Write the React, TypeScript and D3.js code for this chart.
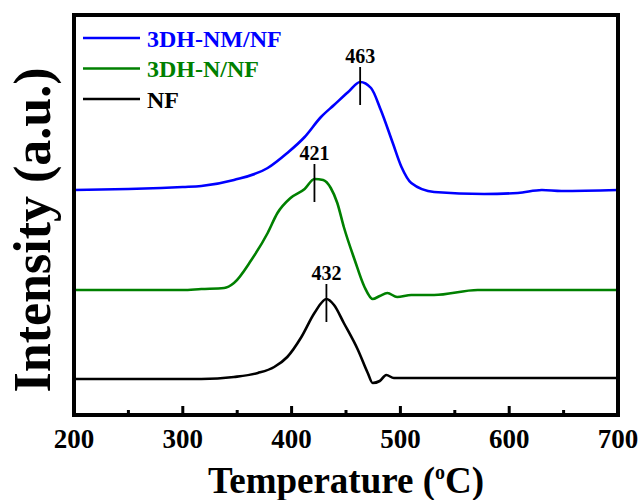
import * as d3 from "d3";

// temperature (°C) and intensity (a.u., offset stacked)
const nmT = [200, 250, 280, 300, 317, 347, 378, 396, 412, 427, 439, 452, 463, 473, 482, 493, 501, 510, 531, 577, 608, 630, 648, 700];
const nmI = [225, 226, 227, 228, 229, 235, 247, 262, 278, 298, 310, 323, 333, 327, 305, 272, 248, 232, 223, 221, 222, 225, 224, 225];

const nT = [200, 300, 317, 338, 347, 363, 378, 387, 399, 412, 421, 429, 436, 442, 448, 458, 467, 474.5, 481, 488, 497, 510, 531, 571, 648, 700];
const nI = [125, 125, 126, 127, 132, 155, 182, 202, 217, 226, 236, 235, 227, 212, 188, 155, 128, 116, 119, 122, 118, 120, 120, 125, 125, 125];

const nfT = [200, 317, 347, 369, 384, 396, 409, 421, 432, 439, 448, 461, 470, 474.5, 481, 487, 494, 510, 700];
const nfI = [36, 36, 38, 42, 48, 58, 78, 102, 116, 110, 92, 65, 42, 32, 34, 40, 37, 37, 37];

const seriesNames = ["3DH-NM/NF", "3DH-N/NF", "NF"];
const seriesColors = ["#0000ff", "#008000", "#000000"];
const peakT = [463, 421, 432];
const peakLabels = ["463", "421", "432"];
const majorTicks = [200, 300, 400, 500, 600, 700];
const minorTicks = [250, 350, 450, 550, 650];

const W = 640;
const H = 500;
const m = { left: 74, right: 618, top: 15, bottom: 415 };
const font = "'Liberation Serif', 'Times New Roman', serif";

export default function App() {
  const x = d3.scaleLinear().domain([200, 700]).range([m.left, m.right]);
  const y = d3.scaleLinear().domain([0, 400]).range([m.bottom, m.top]);
  const line = d3
    .line<[number, number]>()
    .x((d) => x(d[0]))
    .y((d) => y(d[1]))
    .curve(d3.curveMonotoneX);

  const series = [
    nmT.map((t, i) => [t, nmI[i]] as [number, number]),
    nT.map((t, i) => [t, nI[i]] as [number, number]),
    nfT.map((t, i) => [t, nfI[i]] as [number, number]),
  ];
  const tVals = [nmT, nT, nfT];
  const iVals = [nmI, nI, nfI];

  return (
    <svg
      width={W}
      height={H}
      style={{ position: "absolute", left: 0, top: 0, background: "#fff" }}
      fontFamily={font}
    >
      {series.map((s, k) => (
        <path key={k} d={line(s) ?? ""} fill="none" stroke={seriesColors[k]} strokeWidth={2.6} strokeLinejoin="round" />
      ))}

      {/* peak markers */}
      {peakT.map((p, k) => {
        const idx = tVals[k].indexOf(p);
        const py = y(iVals[k][idx]);
        return (
          <g key={k}>
            <line x1={x(p)} x2={x(p)} y1={py - 15} y2={py + 23} stroke="#000" strokeWidth={1.8} />
            <text x={x(p)} y={py - 19} textAnchor="middle" fontSize={20} fontWeight="bold">
              {peakLabels[k]}
            </text>
          </g>
        );
      })}

      {/* axis ticks (inward) */}
      {majorTicks.map((t) => (
        <g key={t}>
          <line x1={x(t)} x2={x(t)} y1={m.bottom} y2={m.bottom - 9} stroke="#000" strokeWidth={3} />
          <text x={x(t)} y={448} textAnchor="middle" fontSize={27} fontWeight="bold">
            {t}
          </text>
        </g>
      ))}
      {minorTicks.map((t) => (
        <line key={t} x1={x(t)} x2={x(t)} y1={m.bottom} y2={m.bottom - 5} stroke="#000" strokeWidth={3} />
      ))}

      {/* frame */}
      <rect x={m.left} y={m.top} width={m.right - m.left} height={m.bottom - m.top} fill="none" stroke="#000" strokeWidth={4} />

      {/* legend */}
      {seriesNames.map((n, k) => {
        const ly = 38 + k * 30.5;
        return (
          <g key={n}>
            <line x1={83} x2={140} y1={ly} y2={ly} stroke={seriesColors[k]} strokeWidth={2.6} />
            <text x={147} y={ly + 8.5} fontSize={24} fontWeight="bold" fill={seriesColors[k]}>
              {n}
            </text>
          </g>
        );
      })}

      {/* axis titles */}
      <text x={346} y={493} textAnchor="middle" fontSize={37} fontWeight="bold">
        Temperature (<tspan dy={-14} fontSize={20}>o</tspan>
        <tspan dy={14}>C)</tspan>
      </text>
      <text transform="translate(50,230) rotate(-90)" textAnchor="middle" fontSize={52} fontWeight="bold">
        Intensity (a.u.)
      </text>
    </svg>
  );
}
